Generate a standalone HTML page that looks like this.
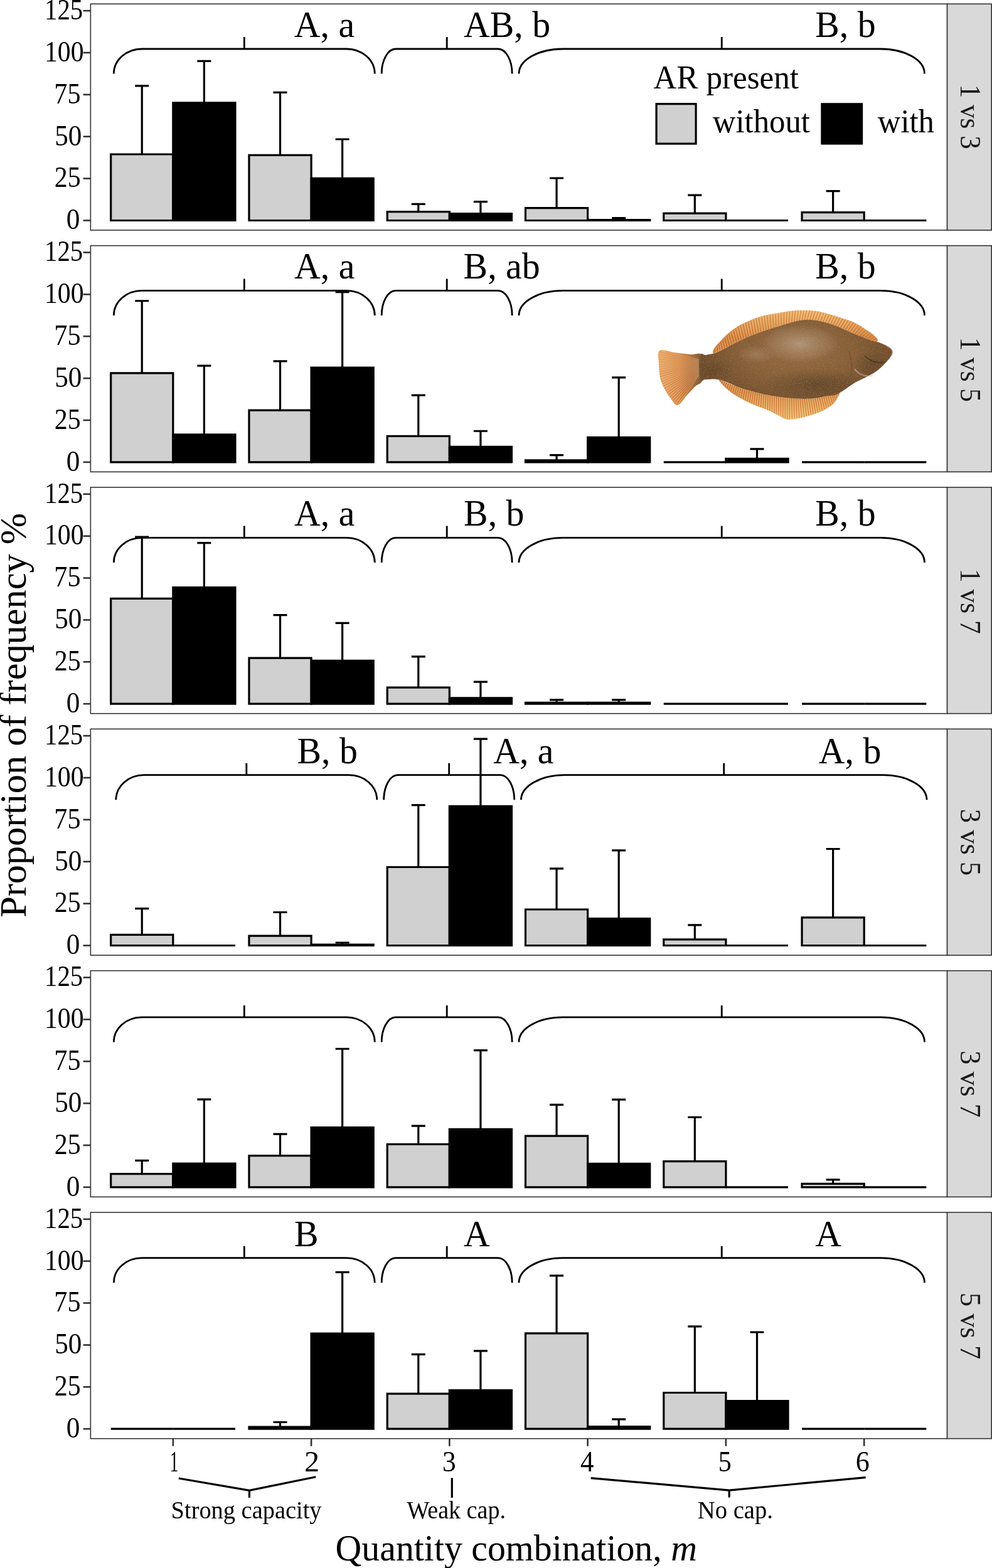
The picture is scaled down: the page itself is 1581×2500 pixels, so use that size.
<!DOCTYPE html>
<html><head><meta charset="utf-8"><title>Proportion of frequency by quantity combination</title>
<style>
html,body{margin:0;padding:0;background:#fff;}
body{width:1581px;height:2500px;overflow:hidden;}
svg{display:block;}
text{font-family:'Liberation Serif', 'Times New Roman', serif;fill:#000;}
.strip{fill:#1a1a1a;}
</style></head>
<body>
<svg width="1581" height="2500" viewBox="0 0 1581 2500">
<rect width="1581" height="2500" fill="#fff"/>
<rect x="144.35" y="6.3" width="1365.25" height="360.7" fill="#fff" stroke="#333333" stroke-width="1.6"/>
<rect x="1509.6" y="6.3" width="70.6" height="360.7" fill="#d9d9d9" stroke="#333333" stroke-width="1.6"/>
<text class="strip" style="font-size:47.3px" transform="translate(1530.80,134.42) rotate(90) scale(0.9153,1)">1 vs 3</text>
<line x1="132.6" y1="351.5" x2="144.35" y2="351.5" stroke="#333333" stroke-width="2.6"/>
<text style="font-size:47.3px" transform="translate(105.65,365.30) scale(0.9133,1)">0</text>
<line x1="132.6" y1="284.62" x2="144.35" y2="284.62" stroke="#333333" stroke-width="2.6"/>
<text style="font-size:47.3px" transform="translate(86.79,298.43) scale(0.8863,1)">25</text>
<line x1="132.6" y1="217.75" x2="144.35" y2="217.75" stroke="#333333" stroke-width="2.6"/>
<text style="font-size:47.3px" transform="translate(87.28,231.55) scale(0.9127,1)">50</text>
<line x1="132.6" y1="150.88" x2="144.35" y2="150.88" stroke="#333333" stroke-width="2.6"/>
<text style="font-size:47.3px" transform="translate(86.36,164.68) scale(0.8935,1)">75</text>
<line x1="132.6" y1="84" x2="144.35" y2="84" stroke="#333333" stroke-width="2.6"/>
<text style="font-size:47.3px" transform="translate(70.94,97.80) scale(0.8818,1)">100</text>
<line x1="132.6" y1="17.12" x2="144.35" y2="17.12" stroke="#333333" stroke-width="2.6"/>
<text style="font-size:47.3px" transform="translate(71.01,30.93) scale(0.8620,1)">125</text>
<path d="M226.24,246 L226.24,136.8 M215.24,136.8 L237.24,136.8" stroke="#000" stroke-width="3.2" fill="none"/>
<path d="M325.36,163.8 L325.36,97.4 M314.36,97.4 L336.36,97.4" stroke="#000" stroke-width="3.2" fill="none"/>
<path d="M176.67,351.5 V246 H275.8 V351.5 Z" fill="#d0d0d0" stroke="#000" stroke-width="3.2"/>
<path d="M275.8,351.5 V163.8 H374.93 V351.5 Z" fill="#000" stroke="#000" stroke-width="3.2"/>
<path d="M446.52,247.4 L446.52,147.3 M435.52,147.3 L457.52,147.3" stroke="#000" stroke-width="3.2" fill="none"/>
<path d="M545.64,284.3 L545.64,222 M534.64,222 L556.64,222" stroke="#000" stroke-width="3.2" fill="none"/>
<path d="M396.95,351.5 V247.4 H496.08 V351.5 Z" fill="#d0d0d0" stroke="#000" stroke-width="3.2"/>
<path d="M496.08,351.5 V284.3 H595.21 V351.5 Z" fill="#000" stroke="#000" stroke-width="3.2"/>
<path d="M666.8,337.6 L666.8,325.3 M655.8,325.3 L677.8,325.3" stroke="#000" stroke-width="3.2" fill="none"/>
<path d="M765.92,340.5 L765.92,321.7 M754.92,321.7 L776.92,321.7" stroke="#000" stroke-width="3.2" fill="none"/>
<path d="M617.23,351.5 V337.6 H716.36 V351.5 Z" fill="#d0d0d0" stroke="#000" stroke-width="3.2"/>
<path d="M716.36,351.5 V340.5 H815.49 V351.5 Z" fill="#000" stroke="#000" stroke-width="3.2"/>
<path d="M887.08,331.7 L887.08,284 M876.08,284 L898.08,284" stroke="#000" stroke-width="3.2" fill="none"/>
<path d="M986.2,350.7 L986.2,347.6 M975.2,347.6 L997.2,347.6" stroke="#000" stroke-width="3.2" fill="none"/>
<path d="M837.51,351.5 V331.7 H936.64 V351.5 Z" fill="#d0d0d0" stroke="#000" stroke-width="3.2"/>
<path d="M936.64,351.5 V350.7 H1035.77 V351.5 Z" fill="#000" stroke="#000" stroke-width="3.2"/>
<path d="M1107.36,340.1 L1107.36,311.1 M1096.36,311.1 L1118.36,311.1" stroke="#000" stroke-width="3.2" fill="none"/>
<path d="M1057.79,351.5 V340.1 H1156.92 V351.5 Z" fill="#d0d0d0" stroke="#000" stroke-width="3.2"/>
<path d="M1156.92,351.5 V351.5 H1256.05 V351.5 Z" fill="#000" stroke="#000" stroke-width="3.2"/>
<path d="M1327.64,338.7 L1327.64,304.7 M1316.64,304.7 L1338.64,304.7" stroke="#000" stroke-width="3.2" fill="none"/>
<path d="M1278.07,351.5 V338.7 H1377.2 V351.5 Z" fill="#d0d0d0" stroke="#000" stroke-width="3.2"/>
<path d="M1377.2,351.5 V351.5 H1476.33 V351.5 Z" fill="#000" stroke="#000" stroke-width="3.2"/>
<path d="M181.3,117.5 A44.93,39.5 0 0 1 226.23,78 L552.37,78 A44.93,39.5 0 0 1 597.3,117.5 M389.3,78 L389.3,59" fill="none" stroke="#000" stroke-width="2.8"/>
<path d="M608.2,117.5 A22.46,39.5 0 0 1 630.66,78 L793.74,78 A22.46,39.5 0 0 1 816.2,117.5 M712.2,78 L712.2,59" fill="none" stroke="#000" stroke-width="2.8"/>
<path d="M827,117.5 A69.82,39.5 0 0 1 896.82,78 L1403.68,78 A69.82,39.5 0 0 1 1473.5,117.5 M1150.25,78 L1150.25,59" fill="none" stroke="#000" stroke-width="2.8"/>
<text style="font-size:59.5px" transform="translate(468.80,59.00) scale(0.9720,1)">A, a</text>
<text style="font-size:59.5px" transform="translate(738.90,59.00) scale(0.9720,1)">AB, b</text>
<text style="font-size:59.5px" transform="translate(1299.30,59.00) scale(0.9720,1)">B, b</text>
<rect x="144.35" y="391.64" width="1365.25" height="360.7" fill="#fff" stroke="#333333" stroke-width="1.6"/>
<rect x="1509.6" y="391.64" width="70.6" height="360.7" fill="#d9d9d9" stroke="#333333" stroke-width="1.6"/>
<text class="strip" style="font-size:47.3px" transform="translate(1530.80,537.72) rotate(90) scale(0.9134,1)">1 vs 5</text>
<line x1="132.6" y1="736.84" x2="144.35" y2="736.84" stroke="#333333" stroke-width="2.6"/>
<text style="font-size:47.3px" transform="translate(105.65,750.64) scale(0.9133,1)">0</text>
<line x1="132.6" y1="669.96" x2="144.35" y2="669.96" stroke="#333333" stroke-width="2.6"/>
<text style="font-size:47.3px" transform="translate(86.79,683.76) scale(0.8863,1)">25</text>
<line x1="132.6" y1="603.09" x2="144.35" y2="603.09" stroke="#333333" stroke-width="2.6"/>
<text style="font-size:47.3px" transform="translate(87.28,616.89) scale(0.9127,1)">50</text>
<line x1="132.6" y1="536.21" x2="144.35" y2="536.21" stroke="#333333" stroke-width="2.6"/>
<text style="font-size:47.3px" transform="translate(86.36,550.01) scale(0.8935,1)">75</text>
<line x1="132.6" y1="469.34" x2="144.35" y2="469.34" stroke="#333333" stroke-width="2.6"/>
<text style="font-size:47.3px" transform="translate(70.94,483.14) scale(0.8818,1)">100</text>
<line x1="132.6" y1="402.46" x2="144.35" y2="402.46" stroke="#333333" stroke-width="2.6"/>
<text style="font-size:47.3px" transform="translate(71.01,416.26) scale(0.8620,1)">125</text>
<path d="M226.24,594.84 L226.24,479.74 M215.24,479.74 L237.24,479.74" stroke="#000" stroke-width="3.2" fill="none"/>
<path d="M325.36,692.94 L325.36,583.04 M314.36,583.04 L336.36,583.04" stroke="#000" stroke-width="3.2" fill="none"/>
<path d="M176.67,736.84 V594.84 H275.8 V736.84 Z" fill="#d0d0d0" stroke="#000" stroke-width="3.2"/>
<path d="M275.8,736.84 V692.94 H374.93 V736.84 Z" fill="#000" stroke="#000" stroke-width="3.2"/>
<path d="M446.52,654.14 L446.52,575.84 M435.52,575.84 L457.52,575.84" stroke="#000" stroke-width="3.2" fill="none"/>
<path d="M545.64,586.04 L545.64,465.74 M534.64,465.74 L556.64,465.74" stroke="#000" stroke-width="3.2" fill="none"/>
<path d="M396.95,736.84 V654.14 H496.08 V736.84 Z" fill="#d0d0d0" stroke="#000" stroke-width="3.2"/>
<path d="M496.08,736.84 V586.04 H595.21 V736.84 Z" fill="#000" stroke="#000" stroke-width="3.2"/>
<path d="M666.8,695.44 L666.8,630.14 M655.8,630.14 L677.8,630.14" stroke="#000" stroke-width="3.2" fill="none"/>
<path d="M765.92,712.44 L765.92,687.24 M754.92,687.24 L776.92,687.24" stroke="#000" stroke-width="3.2" fill="none"/>
<path d="M617.23,736.84 V695.44 H716.36 V736.84 Z" fill="#d0d0d0" stroke="#000" stroke-width="3.2"/>
<path d="M716.36,736.84 V712.44 H815.49 V736.84 Z" fill="#000" stroke="#000" stroke-width="3.2"/>
<path d="M887.08,733.84 L887.08,725.64 M876.08,725.64 L898.08,725.64" stroke="#000" stroke-width="3.2" fill="none"/>
<path d="M986.2,697.34 L986.2,601.94 M975.2,601.94 L997.2,601.94" stroke="#000" stroke-width="3.2" fill="none"/>
<path d="M837.51,736.84 V733.84 H936.64 V736.84 Z" fill="#d0d0d0" stroke="#000" stroke-width="3.2"/>
<path d="M936.64,736.84 V697.34 H1035.77 V736.84 Z" fill="#000" stroke="#000" stroke-width="3.2"/>
<path d="M1206.48,731.34 L1206.48,715.94 M1195.48,715.94 L1217.48,715.94" stroke="#000" stroke-width="3.2" fill="none"/>
<path d="M1057.79,736.84 V736.84 H1156.92 V736.84 Z" fill="#d0d0d0" stroke="#000" stroke-width="3.2"/>
<path d="M1156.92,736.84 V731.34 H1256.05 V736.84 Z" fill="#000" stroke="#000" stroke-width="3.2"/>
<path d="M1278.07,736.84 V736.84 H1377.2 V736.84 Z" fill="#d0d0d0" stroke="#000" stroke-width="3.2"/>
<path d="M1377.2,736.84 V736.84 H1476.33 V736.84 Z" fill="#000" stroke="#000" stroke-width="3.2"/>
<path d="M181.3,502.94 A44.93,39.5 0 0 1 226.23,463.44 L552.37,463.44 A44.93,39.5 0 0 1 597.3,502.94 M389.3,463.44 L389.3,444.44" fill="none" stroke="#000" stroke-width="2.8"/>
<path d="M608.2,502.94 A22.46,39.5 0 0 1 630.66,463.44 L793.74,463.44 A22.46,39.5 0 0 1 816.2,502.94 M712.2,463.44 L712.2,444.44" fill="none" stroke="#000" stroke-width="2.8"/>
<path d="M827,502.94 A69.82,39.5 0 0 1 896.82,463.44 L1403.68,463.44 A69.82,39.5 0 0 1 1473.5,502.94 M1150.25,463.44 L1150.25,444.44" fill="none" stroke="#000" stroke-width="2.8"/>
<text style="font-size:59.5px" transform="translate(469.00,444.44) scale(0.9720,1)">A, a</text>
<text style="font-size:59.5px" transform="translate(738.60,444.44) scale(0.9720,1)">B, ab</text>
<text style="font-size:59.5px" transform="translate(1299.30,444.44) scale(0.9720,1)">B, b</text>
<rect x="144.35" y="776.98" width="1365.25" height="360.7" fill="#fff" stroke="#333333" stroke-width="1.6"/>
<rect x="1509.6" y="776.98" width="70.6" height="360.7" fill="#d9d9d9" stroke="#333333" stroke-width="1.6"/>
<text class="strip" style="font-size:47.3px" transform="translate(1530.80,906.80) rotate(90) scale(0.9210,1)">1 vs 7</text>
<line x1="132.6" y1="1122.18" x2="144.35" y2="1122.18" stroke="#333333" stroke-width="2.6"/>
<text style="font-size:47.3px" transform="translate(105.65,1135.98) scale(0.9133,1)">0</text>
<line x1="132.6" y1="1055.3" x2="144.35" y2="1055.3" stroke="#333333" stroke-width="2.6"/>
<text style="font-size:47.3px" transform="translate(86.79,1069.10) scale(0.8863,1)">25</text>
<line x1="132.6" y1="988.43" x2="144.35" y2="988.43" stroke="#333333" stroke-width="2.6"/>
<text style="font-size:47.3px" transform="translate(87.28,1002.23) scale(0.9127,1)">50</text>
<line x1="132.6" y1="921.55" x2="144.35" y2="921.55" stroke="#333333" stroke-width="2.6"/>
<text style="font-size:47.3px" transform="translate(86.36,935.35) scale(0.8935,1)">75</text>
<line x1="132.6" y1="854.68" x2="144.35" y2="854.68" stroke="#333333" stroke-width="2.6"/>
<text style="font-size:47.3px" transform="translate(70.94,868.48) scale(0.8818,1)">100</text>
<line x1="132.6" y1="787.8" x2="144.35" y2="787.8" stroke="#333333" stroke-width="2.6"/>
<text style="font-size:47.3px" transform="translate(71.01,801.60) scale(0.8620,1)">125</text>
<path d="M226.24,954.38 L226.24,856.08 M215.24,856.08 L237.24,856.08" stroke="#000" stroke-width="3.2" fill="none"/>
<path d="M325.36,936.48 L325.36,865.58 M314.36,865.58 L336.36,865.58" stroke="#000" stroke-width="3.2" fill="none"/>
<path d="M176.67,1122.18 V954.38 H275.8 V1122.18 Z" fill="#d0d0d0" stroke="#000" stroke-width="3.2"/>
<path d="M275.8,1122.18 V936.48 H374.93 V1122.18 Z" fill="#000" stroke="#000" stroke-width="3.2"/>
<path d="M446.52,1049.08 L446.52,980.68 M435.52,980.68 L457.52,980.68" stroke="#000" stroke-width="3.2" fill="none"/>
<path d="M545.64,1053.38 L545.64,993.38 M534.64,993.38 L556.64,993.38" stroke="#000" stroke-width="3.2" fill="none"/>
<path d="M396.95,1122.18 V1049.08 H496.08 V1122.18 Z" fill="#d0d0d0" stroke="#000" stroke-width="3.2"/>
<path d="M496.08,1122.18 V1053.38 H595.21 V1122.18 Z" fill="#000" stroke="#000" stroke-width="3.2"/>
<path d="M666.8,1096.18 L666.8,1046.78 M655.8,1046.78 L677.8,1046.78" stroke="#000" stroke-width="3.2" fill="none"/>
<path d="M765.92,1112.78 L765.92,1087.18 M754.92,1087.18 L776.92,1087.18" stroke="#000" stroke-width="3.2" fill="none"/>
<path d="M617.23,1122.18 V1096.18 H716.36 V1122.18 Z" fill="#d0d0d0" stroke="#000" stroke-width="3.2"/>
<path d="M716.36,1122.18 V1112.78 H815.49 V1122.18 Z" fill="#000" stroke="#000" stroke-width="3.2"/>
<path d="M887.08,1120.28 L887.08,1115.78 M876.08,1115.78 L898.08,1115.78" stroke="#000" stroke-width="3.2" fill="none"/>
<path d="M986.2,1120.28 L986.2,1115.78 M975.2,1115.78 L997.2,1115.78" stroke="#000" stroke-width="3.2" fill="none"/>
<path d="M837.51,1122.18 V1120.28 H936.64 V1122.18 Z" fill="#d0d0d0" stroke="#000" stroke-width="3.2"/>
<path d="M936.64,1122.18 V1120.28 H1035.77 V1122.18 Z" fill="#000" stroke="#000" stroke-width="3.2"/>
<path d="M1057.79,1122.18 V1122.18 H1156.92 V1122.18 Z" fill="#d0d0d0" stroke="#000" stroke-width="3.2"/>
<path d="M1156.92,1122.18 V1122.18 H1256.05 V1122.18 Z" fill="#000" stroke="#000" stroke-width="3.2"/>
<path d="M1278.07,1122.18 V1122.18 H1377.2 V1122.18 Z" fill="#d0d0d0" stroke="#000" stroke-width="3.2"/>
<path d="M1377.2,1122.18 V1122.18 H1476.33 V1122.18 Z" fill="#000" stroke="#000" stroke-width="3.2"/>
<path d="M181.3,896.88 A44.93,39.5 0 0 1 226.23,857.38 L552.37,857.38 A44.93,39.5 0 0 1 597.3,896.88 M389.3,857.38 L389.3,838.38" fill="none" stroke="#000" stroke-width="2.8"/>
<path d="M608.2,896.88 A22.46,39.5 0 0 1 630.66,857.38 L793.74,857.38 A22.46,39.5 0 0 1 816.2,896.88 M712.2,857.38 L712.2,838.38" fill="none" stroke="#000" stroke-width="2.8"/>
<path d="M827,896.88 A69.82,39.5 0 0 1 896.82,857.38 L1403.68,857.38 A69.82,39.5 0 0 1 1473.5,896.88 M1150.25,857.38 L1150.25,838.38" fill="none" stroke="#000" stroke-width="2.8"/>
<text style="font-size:59.5px" transform="translate(469.00,838.38) scale(0.9720,1)">A, a</text>
<text style="font-size:59.5px" transform="translate(739.10,838.38) scale(0.9720,1)">B, b</text>
<text style="font-size:59.5px" transform="translate(1299.30,838.38) scale(0.9720,1)">B, b</text>
<rect x="144.35" y="1162.32" width="1365.25" height="360.7" fill="#fff" stroke="#333333" stroke-width="1.6"/>
<rect x="1509.6" y="1162.32" width="70.6" height="360.7" fill="#d9d9d9" stroke="#333333" stroke-width="1.6"/>
<text class="strip" style="font-size:47.3px" transform="translate(1530.80,1289.81) rotate(90) scale(0.9423,1)">3 vs 5</text>
<line x1="132.6" y1="1507.52" x2="144.35" y2="1507.52" stroke="#333333" stroke-width="2.6"/>
<text style="font-size:47.3px" transform="translate(105.65,1521.32) scale(0.9133,1)">0</text>
<line x1="132.6" y1="1440.64" x2="144.35" y2="1440.64" stroke="#333333" stroke-width="2.6"/>
<text style="font-size:47.3px" transform="translate(86.79,1454.44) scale(0.8863,1)">25</text>
<line x1="132.6" y1="1373.77" x2="144.35" y2="1373.77" stroke="#333333" stroke-width="2.6"/>
<text style="font-size:47.3px" transform="translate(87.28,1387.57) scale(0.9127,1)">50</text>
<line x1="132.6" y1="1306.89" x2="144.35" y2="1306.89" stroke="#333333" stroke-width="2.6"/>
<text style="font-size:47.3px" transform="translate(86.36,1320.69) scale(0.8935,1)">75</text>
<line x1="132.6" y1="1240.02" x2="144.35" y2="1240.02" stroke="#333333" stroke-width="2.6"/>
<text style="font-size:47.3px" transform="translate(70.94,1253.82) scale(0.8818,1)">100</text>
<line x1="132.6" y1="1173.14" x2="144.35" y2="1173.14" stroke="#333333" stroke-width="2.6"/>
<text style="font-size:47.3px" transform="translate(71.01,1186.94) scale(0.8620,1)">125</text>
<path d="M226.24,1490.32 L226.24,1448.62 M215.24,1448.62 L237.24,1448.62" stroke="#000" stroke-width="3.2" fill="none"/>
<path d="M176.67,1507.52 V1490.32 H275.8 V1507.52 Z" fill="#d0d0d0" stroke="#000" stroke-width="3.2"/>
<path d="M275.8,1507.52 V1507.52 H374.93 V1507.52 Z" fill="#000" stroke="#000" stroke-width="3.2"/>
<path d="M446.52,1492.12 L446.52,1454.52 M435.52,1454.52 L457.52,1454.52" stroke="#000" stroke-width="3.2" fill="none"/>
<path d="M545.64,1506.02 L545.64,1503.02 M534.64,1503.02 L556.64,1503.02" stroke="#000" stroke-width="3.2" fill="none"/>
<path d="M396.95,1507.52 V1492.12 H496.08 V1507.52 Z" fill="#d0d0d0" stroke="#000" stroke-width="3.2"/>
<path d="M496.08,1507.52 V1506.02 H595.21 V1507.52 Z" fill="#000" stroke="#000" stroke-width="3.2"/>
<path d="M666.8,1382.52 L666.8,1283.72 M655.8,1283.72 L677.8,1283.72" stroke="#000" stroke-width="3.2" fill="none"/>
<path d="M765.92,1285.32 L765.92,1178.22 M754.92,1178.22 L776.92,1178.22" stroke="#000" stroke-width="3.2" fill="none"/>
<path d="M617.23,1507.52 V1382.52 H716.36 V1507.52 Z" fill="#d0d0d0" stroke="#000" stroke-width="3.2"/>
<path d="M716.36,1507.52 V1285.32 H815.49 V1507.52 Z" fill="#000" stroke="#000" stroke-width="3.2"/>
<path d="M887.08,1450.02 L887.08,1384.82 M876.08,1384.82 L898.08,1384.82" stroke="#000" stroke-width="3.2" fill="none"/>
<path d="M986.2,1464.52 L986.2,1355.82 M975.2,1355.82 L997.2,1355.82" stroke="#000" stroke-width="3.2" fill="none"/>
<path d="M837.51,1507.52 V1450.02 H936.64 V1507.52 Z" fill="#d0d0d0" stroke="#000" stroke-width="3.2"/>
<path d="M936.64,1507.52 V1464.52 H1035.77 V1507.52 Z" fill="#000" stroke="#000" stroke-width="3.2"/>
<path d="M1107.36,1497.82 L1107.36,1474.92 M1096.36,1474.92 L1118.36,1474.92" stroke="#000" stroke-width="3.2" fill="none"/>
<path d="M1057.79,1507.52 V1497.82 H1156.92 V1507.52 Z" fill="#d0d0d0" stroke="#000" stroke-width="3.2"/>
<path d="M1156.92,1507.52 V1507.52 H1256.05 V1507.52 Z" fill="#000" stroke="#000" stroke-width="3.2"/>
<path d="M1327.64,1462.92 L1327.64,1353.52 M1316.64,1353.52 L1338.64,1353.52" stroke="#000" stroke-width="3.2" fill="none"/>
<path d="M1278.07,1507.52 V1462.92 H1377.2 V1507.52 Z" fill="#d0d0d0" stroke="#000" stroke-width="3.2"/>
<path d="M1377.2,1507.52 V1507.52 H1476.33 V1507.52 Z" fill="#000" stroke="#000" stroke-width="3.2"/>
<path d="M184.8,1275.22 A44.93,39.5 0 0 1 229.73,1235.72 L555.87,1235.72 A44.93,39.5 0 0 1 600.8,1275.22 M392.8,1235.72 L392.8,1216.72" fill="none" stroke="#000" stroke-width="2.8"/>
<path d="M611.7,1275.22 A22.46,39.5 0 0 1 634.16,1235.72 L797.24,1235.72 A22.46,39.5 0 0 1 819.7,1275.22 M715.7,1235.72 L715.7,1216.72" fill="none" stroke="#000" stroke-width="2.8"/>
<path d="M830.5,1275.22 A69.82,39.5 0 0 1 900.32,1235.72 L1407.18,1235.72 A69.82,39.5 0 0 1 1477,1275.22 M1153.75,1235.72 L1153.75,1216.72" fill="none" stroke="#000" stroke-width="2.8"/>
<text style="font-size:59.5px" transform="translate(473.50,1216.72) scale(0.9720,1)">B, b</text>
<text style="font-size:59.5px" transform="translate(786.20,1216.72) scale(0.9720,1)">A, a</text>
<text style="font-size:59.5px" transform="translate(1304.80,1216.72) scale(0.9720,1)">A, b</text>
<rect x="144.35" y="1547.66" width="1365.25" height="360.7" fill="#fff" stroke="#333333" stroke-width="1.6"/>
<rect x="1509.6" y="1547.66" width="70.6" height="360.7" fill="#d9d9d9" stroke="#333333" stroke-width="1.6"/>
<text class="strip" style="font-size:47.3px" transform="translate(1530.80,1675.10) rotate(90) scale(0.9450,1)">3 vs 7</text>
<line x1="132.6" y1="1892.86" x2="144.35" y2="1892.86" stroke="#333333" stroke-width="2.6"/>
<text style="font-size:47.3px" transform="translate(105.65,1906.66) scale(0.9133,1)">0</text>
<line x1="132.6" y1="1825.98" x2="144.35" y2="1825.98" stroke="#333333" stroke-width="2.6"/>
<text style="font-size:47.3px" transform="translate(86.79,1839.78) scale(0.8863,1)">25</text>
<line x1="132.6" y1="1759.11" x2="144.35" y2="1759.11" stroke="#333333" stroke-width="2.6"/>
<text style="font-size:47.3px" transform="translate(87.28,1772.91) scale(0.9127,1)">50</text>
<line x1="132.6" y1="1692.23" x2="144.35" y2="1692.23" stroke="#333333" stroke-width="2.6"/>
<text style="font-size:47.3px" transform="translate(86.36,1706.03) scale(0.8935,1)">75</text>
<line x1="132.6" y1="1625.36" x2="144.35" y2="1625.36" stroke="#333333" stroke-width="2.6"/>
<text style="font-size:47.3px" transform="translate(70.94,1639.16) scale(0.8818,1)">100</text>
<line x1="132.6" y1="1558.48" x2="144.35" y2="1558.48" stroke="#333333" stroke-width="2.6"/>
<text style="font-size:47.3px" transform="translate(71.01,1572.28) scale(0.8620,1)">125</text>
<path d="M226.24,1871.66 L226.24,1850.36 M215.24,1850.36 L237.24,1850.36" stroke="#000" stroke-width="3.2" fill="none"/>
<path d="M325.36,1855.06 L325.36,1752.96 M314.36,1752.96 L336.36,1752.96" stroke="#000" stroke-width="3.2" fill="none"/>
<path d="M176.67,1892.86 V1871.66 H275.8 V1892.86 Z" fill="#d0d0d0" stroke="#000" stroke-width="3.2"/>
<path d="M275.8,1892.86 V1855.06 H374.93 V1892.86 Z" fill="#000" stroke="#000" stroke-width="3.2"/>
<path d="M446.52,1842.66 L446.52,1808.16 M435.52,1808.16 L457.52,1808.16" stroke="#000" stroke-width="3.2" fill="none"/>
<path d="M545.64,1797.56 L545.64,1672.26 M534.64,1672.26 L556.64,1672.26" stroke="#000" stroke-width="3.2" fill="none"/>
<path d="M396.95,1892.86 V1842.66 H496.08 V1892.86 Z" fill="#d0d0d0" stroke="#000" stroke-width="3.2"/>
<path d="M496.08,1892.86 V1797.56 H595.21 V1892.86 Z" fill="#000" stroke="#000" stroke-width="3.2"/>
<path d="M666.8,1824.46 L666.8,1795.06 M655.8,1795.06 L677.8,1795.06" stroke="#000" stroke-width="3.2" fill="none"/>
<path d="M765.92,1800.26 L765.92,1674.56 M754.92,1674.56 L776.92,1674.56" stroke="#000" stroke-width="3.2" fill="none"/>
<path d="M617.23,1892.86 V1824.46 H716.36 V1892.86 Z" fill="#d0d0d0" stroke="#000" stroke-width="3.2"/>
<path d="M716.36,1892.86 V1800.26 H815.49 V1892.86 Z" fill="#000" stroke="#000" stroke-width="3.2"/>
<path d="M887.08,1811.06 L887.08,1761.46 M876.08,1761.46 L898.08,1761.46" stroke="#000" stroke-width="3.2" fill="none"/>
<path d="M986.2,1855.46 L986.2,1753.16 M975.2,1753.16 L997.2,1753.16" stroke="#000" stroke-width="3.2" fill="none"/>
<path d="M837.51,1892.86 V1811.06 H936.64 V1892.86 Z" fill="#d0d0d0" stroke="#000" stroke-width="3.2"/>
<path d="M936.64,1892.86 V1855.46 H1035.77 V1892.86 Z" fill="#000" stroke="#000" stroke-width="3.2"/>
<path d="M1107.36,1851.56 L1107.36,1781.26 M1096.36,1781.26 L1118.36,1781.26" stroke="#000" stroke-width="3.2" fill="none"/>
<path d="M1057.79,1892.86 V1851.56 H1156.92 V1892.86 Z" fill="#d0d0d0" stroke="#000" stroke-width="3.2"/>
<path d="M1156.92,1892.86 V1892.86 H1256.05 V1892.86 Z" fill="#000" stroke="#000" stroke-width="3.2"/>
<path d="M1327.64,1887.36 L1327.64,1880.96 M1316.64,1880.96 L1338.64,1880.96" stroke="#000" stroke-width="3.2" fill="none"/>
<path d="M1278.07,1892.86 V1887.36 H1377.2 V1892.86 Z" fill="#d0d0d0" stroke="#000" stroke-width="3.2"/>
<path d="M1377.2,1892.86 V1892.86 H1476.33 V1892.86 Z" fill="#000" stroke="#000" stroke-width="3.2"/>
<path d="M181.3,1661.46 A44.93,39.5 0 0 1 226.23,1621.96 L552.37,1621.96 A44.93,39.5 0 0 1 597.3,1661.46 M389.3,1621.96 L389.3,1602.96" fill="none" stroke="#000" stroke-width="2.8"/>
<path d="M608.2,1661.46 A22.46,39.5 0 0 1 630.66,1621.96 L793.74,1621.96 A22.46,39.5 0 0 1 816.2,1661.46 M712.2,1621.96 L712.2,1602.96" fill="none" stroke="#000" stroke-width="2.8"/>
<path d="M827,1661.46 A69.82,39.5 0 0 1 896.82,1621.96 L1403.68,1621.96 A69.82,39.5 0 0 1 1473.5,1661.46 M1150.25,1621.96 L1150.25,1602.96" fill="none" stroke="#000" stroke-width="2.8"/>
<rect x="144.35" y="1933" width="1365.25" height="360.7" fill="#fff" stroke="#333333" stroke-width="1.6"/>
<rect x="1509.6" y="1933" width="70.6" height="360.7" fill="#d9d9d9" stroke="#333333" stroke-width="1.6"/>
<text class="strip" style="font-size:47.3px" transform="translate(1530.80,2060.91) rotate(90) scale(0.9414,1)">5 vs 7</text>
<line x1="132.6" y1="2278.2" x2="144.35" y2="2278.2" stroke="#333333" stroke-width="2.6"/>
<text style="font-size:47.3px" transform="translate(105.65,2292.00) scale(0.9133,1)">0</text>
<line x1="132.6" y1="2211.32" x2="144.35" y2="2211.32" stroke="#333333" stroke-width="2.6"/>
<text style="font-size:47.3px" transform="translate(86.79,2225.12) scale(0.8863,1)">25</text>
<line x1="132.6" y1="2144.45" x2="144.35" y2="2144.45" stroke="#333333" stroke-width="2.6"/>
<text style="font-size:47.3px" transform="translate(87.28,2158.25) scale(0.9127,1)">50</text>
<line x1="132.6" y1="2077.57" x2="144.35" y2="2077.57" stroke="#333333" stroke-width="2.6"/>
<text style="font-size:47.3px" transform="translate(86.36,2091.38) scale(0.8935,1)">75</text>
<line x1="132.6" y1="2010.7" x2="144.35" y2="2010.7" stroke="#333333" stroke-width="2.6"/>
<text style="font-size:47.3px" transform="translate(70.94,2024.50) scale(0.8818,1)">100</text>
<line x1="132.6" y1="1943.82" x2="144.35" y2="1943.82" stroke="#333333" stroke-width="2.6"/>
<text style="font-size:47.3px" transform="translate(71.01,1957.62) scale(0.8620,1)">125</text>
<path d="M176.67,2278.2 V2278.2 H275.8 V2278.2 Z" fill="#d0d0d0" stroke="#000" stroke-width="3.2"/>
<path d="M275.8,2278.2 V2278.2 H374.93 V2278.2 Z" fill="#000" stroke="#000" stroke-width="3.2"/>
<path d="M446.52,2275.2 L446.52,2267.5 M435.52,2267.5 L457.52,2267.5" stroke="#000" stroke-width="3.2" fill="none"/>
<path d="M545.64,2126 L545.64,2028.3 M534.64,2028.3 L556.64,2028.3" stroke="#000" stroke-width="3.2" fill="none"/>
<path d="M396.95,2278.2 V2275.2 H496.08 V2278.2 Z" fill="#d0d0d0" stroke="#000" stroke-width="3.2"/>
<path d="M496.08,2278.2 V2126 H595.21 V2278.2 Z" fill="#000" stroke="#000" stroke-width="3.2"/>
<path d="M666.8,2222.2 L666.8,2159.3 M655.8,2159.3 L677.8,2159.3" stroke="#000" stroke-width="3.2" fill="none"/>
<path d="M765.92,2216.6 L765.92,2153.8 M754.92,2153.8 L776.92,2153.8" stroke="#000" stroke-width="3.2" fill="none"/>
<path d="M617.23,2278.2 V2222.2 H716.36 V2278.2 Z" fill="#d0d0d0" stroke="#000" stroke-width="3.2"/>
<path d="M716.36,2278.2 V2216.6 H815.49 V2278.2 Z" fill="#000" stroke="#000" stroke-width="3.2"/>
<path d="M887.08,2125.8 L887.08,2033.9 M876.08,2033.9 L898.08,2033.9" stroke="#000" stroke-width="3.2" fill="none"/>
<path d="M986.2,2274.5 L986.2,2262.8 M975.2,2262.8 L997.2,2262.8" stroke="#000" stroke-width="3.2" fill="none"/>
<path d="M837.51,2278.2 V2125.8 H936.64 V2278.2 Z" fill="#d0d0d0" stroke="#000" stroke-width="3.2"/>
<path d="M936.64,2278.2 V2274.5 H1035.77 V2278.2 Z" fill="#000" stroke="#000" stroke-width="3.2"/>
<path d="M1107.36,2220.5 L1107.36,2114.8 M1096.36,2114.8 L1118.36,2114.8" stroke="#000" stroke-width="3.2" fill="none"/>
<path d="M1206.48,2233.6 L1206.48,2124 M1195.48,2124 L1217.48,2124" stroke="#000" stroke-width="3.2" fill="none"/>
<path d="M1057.79,2278.2 V2220.5 H1156.92 V2278.2 Z" fill="#d0d0d0" stroke="#000" stroke-width="3.2"/>
<path d="M1156.92,2278.2 V2233.6 H1256.05 V2278.2 Z" fill="#000" stroke="#000" stroke-width="3.2"/>
<path d="M1278.07,2278.2 V2278.2 H1377.2 V2278.2 Z" fill="#d0d0d0" stroke="#000" stroke-width="3.2"/>
<path d="M1377.2,2278.2 V2278.2 H1476.33 V2278.2 Z" fill="#000" stroke="#000" stroke-width="3.2"/>
<path d="M181.3,2045.2 A44.93,39.5 0 0 1 226.23,2005.7 L552.37,2005.7 A44.93,39.5 0 0 1 597.3,2045.2 M389.3,2005.7 L389.3,1986.7" fill="none" stroke="#000" stroke-width="2.8"/>
<path d="M608.2,2045.2 A22.46,39.5 0 0 1 630.66,2005.7 L793.74,2005.7 A22.46,39.5 0 0 1 816.2,2045.2 M712.2,2005.7 L712.2,1986.7" fill="none" stroke="#000" stroke-width="2.8"/>
<path d="M827,2045.2 A69.82,39.5 0 0 1 896.82,2005.7 L1403.68,2005.7 A69.82,39.5 0 0 1 1473.5,2045.2 M1150.25,2005.7 L1150.25,1986.7" fill="none" stroke="#000" stroke-width="2.8"/>
<text style="font-size:59.5px" transform="translate(469.00,1986.70) scale(0.9720,1)">B</text>
<text style="font-size:59.5px" transform="translate(739.00,1986.70) scale(0.9720,1)">A</text>
<text style="font-size:59.5px" transform="translate(1299.30,1986.70) scale(0.9720,1)">A</text>
<text style="font-size:52.6px" transform="translate(1041.60,141.40) scale(0.9723,1)">AR present</text>
<rect x="1046.1" y="165.7" width="63" height="63.4" fill="#d0d0d0" stroke="#000" stroke-width="3.2"/>
<text style="font-size:52.6px" transform="translate(1135.80,211.00) scale(0.9658,1)">without</text>
<rect x="1308.3" y="164.2" width="66.9" height="66.4" fill="#000"/>
<text style="font-size:52.6px" transform="translate(1398.80,210.80) scale(0.9635,1)">with</text>
<defs>
<linearGradient id="tailG" gradientUnits="userSpaceOnUse" x1="1122" y1="0" x2="1050" y2="0">
 <stop offset="0" stop-color="#805a36"/><stop offset="0.12" stop-color="#8a603a"/><stop offset="0.3" stop-color="#b4763e"/><stop offset="0.55" stop-color="#de9550"/><stop offset="1" stop-color="#eeb070"/>
</linearGradient>
<linearGradient id="dorsG" gradientUnits="userSpaceOnUse" x1="0" y1="540" x2="0" y2="495">
 <stop offset="0" stop-color="#d2843e"/><stop offset="1" stop-color="#f2ba6e"/>
</linearGradient>
<linearGradient id="analG" gradientUnits="userSpaceOnUse" x1="0" y1="625" x2="0" y2="668">
 <stop offset="0" stop-color="#d88c42"/><stop offset="1" stop-color="#f4c070"/>
</linearGradient>
<radialGradient id="bodyG" gradientUnits="userSpaceOnUse" cx="1270" cy="560" r="150" gradientTransform="translate(1270,560) scale(1,0.55) translate(-1270,-560)">
 <stop offset="0" stop-color="#976a40"/><stop offset="0.6" stop-color="#875e35"/><stop offset="1" stop-color="#714c2a"/>
</radialGradient>
<radialGradient id="hl" cx="0.5" cy="0.5" r="0.5">
 <stop offset="0" stop-color="#c0a88e" stop-opacity="0.75"/><stop offset="0.6" stop-color="#b49678" stop-opacity="0.4"/><stop offset="1" stop-color="#b8a290" stop-opacity="0"/>
</radialGradient>
<radialGradient id="dk" cx="0.5" cy="0.5" r="0.5">
 <stop offset="0" stop-color="#4a3620" stop-opacity="0.55"/><stop offset="1" stop-color="#4a3620" stop-opacity="0"/>
</radialGradient>
<filter id="grain" x="0" y="0" width="100%" height="100%">
 <feTurbulence type="fractalNoise" baseFrequency="0.55" numOctaves="2" seed="3" result="n"/>
 <feColorMatrix type="matrix" values="0 0 0 0 0.25  0 0 0 0 0.18  0 0 0 0 0.1  1.6 0 0 0 -0.75" in="n" result="dots"/>
 <feComposite in="dots" in2="SourceGraphic" operator="in"/>
</filter>
<filter id="grainL" x="0" y="0" width="100%" height="100%">
 <feTurbulence type="fractalNoise" baseFrequency="0.7" numOctaves="1" seed="11" result="n"/>
 <feColorMatrix type="matrix" values="0 0 0 0 0.85  0 0 0 0 0.8  0 0 0 0 0.72  1.8 0 0 0 -1.05" in="n" result="dots"/>
 <feComposite in="dots" in2="SourceGraphic" operator="in"/>
</filter>
</defs>
<g id="fish">
<path d="M1138.0,556.0 C1140.0,552.5 1145.5,546.7 1150.0,542.0 C1154.5,537.3 1159.3,532.3 1165.0,528.0 C1170.7,523.7 1176.3,519.8 1184.0,516.0 C1191.7,512.2 1201.7,507.8 1211.0,505.0 C1220.3,502.2 1230.3,500.7 1240.0,499.0 C1249.7,497.3 1258.7,495.5 1269.0,495.0 C1279.3,494.5 1291.0,494.3 1302.0,496.0 C1313.0,497.7 1325.2,502.0 1335.0,505.0 C1344.8,508.0 1353.3,510.5 1361.0,514.0 C1368.7,517.5 1375.8,522.7 1381.0,526.0 C1386.2,529.3 1389.0,531.3 1392.0,534.0 C1395.0,536.7 1399.0,540.2 1399.0,542.0 C1399.0,543.8 1398.3,546.7 1392.0,545.0 C1385.7,543.3 1372.7,536.8 1361.0,532.0 C1349.3,527.2 1335.2,519.7 1322.0,516.0 C1308.8,512.3 1296.5,509.0 1282.0,510.0 C1267.5,511.0 1248.7,518.0 1235.0,522.0 C1221.3,526.0 1209.2,530.5 1200.0,534.0 C1190.8,537.5 1186.7,539.8 1180.0,543.0 C1173.3,546.2 1167.0,549.7 1160.0,553.0 C1153.0,556.3 1141.7,562.5 1138.0,563.0 C1134.3,563.5 1136.0,559.5 1138.0,556.0 Z" fill="url(#dorsG)"/>
<path d="M1144.0,604.0 C1145.3,605.7 1149.0,610.8 1152.0,614.0 C1155.0,617.2 1158.2,620.0 1162.0,623.0 C1165.8,626.0 1169.0,628.5 1175.0,632.0 C1181.0,635.5 1189.8,640.3 1198.0,644.0 C1206.2,647.7 1217.0,651.0 1224.0,654.0 C1231.0,657.0 1234.7,659.5 1240.0,662.0 C1245.3,664.5 1249.0,668.5 1256.0,669.0 C1263.0,669.5 1273.2,667.2 1282.0,665.0 C1290.8,662.8 1301.3,659.5 1309.0,656.0 C1316.7,652.5 1323.3,648.3 1328.0,644.0 C1332.7,639.7 1335.3,632.8 1337.0,630.0 C1338.7,627.2 1340.5,626.8 1338.0,627.0 C1335.5,627.2 1331.3,629.5 1322.0,631.0 C1312.7,632.5 1297.3,636.0 1282.0,636.0 C1266.7,636.0 1246.2,633.7 1230.0,631.0 C1213.8,628.3 1199.3,624.5 1185.0,620.0 C1170.7,615.5 1150.8,606.7 1144.0,604.0 C1137.2,601.3 1142.7,602.3 1144.0,604.0 Z" fill="url(#analG)"/>
<path d="M1051.0,559.0 C1055.2,556.0 1066.8,561.0 1075.0,562.0 C1083.2,563.0 1092.5,564.2 1100.0,565.0 C1107.5,565.8 1116.7,560.3 1120.0,567.0 C1123.3,573.7 1122.0,596.8 1120.0,605.0 C1118.0,613.2 1112.2,611.8 1108.0,616.0 C1103.8,620.2 1099.7,625.0 1095.0,630.0 C1090.3,635.0 1084.5,645.3 1080.0,646.0 C1075.5,646.7 1071.7,638.7 1068.0,634.0 C1064.3,629.3 1060.7,623.3 1058.0,618.0 C1055.3,612.7 1053.3,608.3 1052.0,602.0 C1050.7,595.7 1050.2,587.2 1050.0,580.0 C1049.8,572.8 1046.8,562.0 1051.0,559.0 Z" fill="url(#tailG)"/>
<path d="M1139.9,562.1L1139.5,554.3 M1143.8,560.4L1142.5,550.8 M1147.6,558.6L1145.4,547.3 M1151.5,556.9L1148.4,543.9 M1155.3,555.1L1151.5,540.6 M1159.1,553.4L1154.9,537.5 M1162.9,551.5L1158.2,534.4 M1166.7,549.6L1161.5,531.3 M1170.5,547.8L1164.8,528.1 M1174.3,545.9L1168.7,525.7 M1178.0,544.0L1172.5,523.2 M1181.8,542.2L1176.4,520.8 M1185.7,540.4L1180.2,518.4 M1189.5,538.7L1184.1,516.0 M1193.4,537.0L1188.3,514.2 M1197.2,535.2L1192.5,512.5 M1201.1,533.6L1196.8,510.8 M1205.1,532.2L1201.0,509.1 M1209.1,530.9L1205.2,507.4 M1213.1,529.5L1209.4,505.6 M1217.1,528.1L1213.8,504.4 M1221.1,526.8L1218.3,503.5 M1225.1,525.4L1222.7,502.6 M1229.1,524.0L1227.2,501.6 M1233.1,522.7L1231.7,500.7 M1237.1,521.5L1236.1,499.8 M1241.2,520.4L1240.6,498.9 M1245.3,519.4L1245.1,498.3 M1249.4,518.3L1249.6,497.7 M1253.5,517.3L1254.2,497.0 M1257.6,516.2L1258.7,496.4 M1261.7,515.2L1263.2,495.8 M1265.8,514.1L1267.7,495.2 M1269.8,513.1L1272.2,495.1 M1273.9,512.1L1276.8,495.2 M1278.0,511.0L1281.4,495.4 M1282.1,510.0L1285.9,495.5 M1286.3,510.6L1290.5,495.7 M1290.5,511.3L1295.0,495.8 M1294.6,511.9L1299.6,495.9 M1298.8,512.5L1304.1,496.6 M1303.0,513.1L1308.5,497.8 M1307.2,513.8L1312.9,499.0 M1311.3,514.4L1317.3,500.2 M1315.5,515.0L1321.7,501.4 M1319.7,515.7L1326.1,502.6 M1323.8,516.7L1330.5,503.8 M1327.7,518.3L1334.9,505.0 M1331.6,519.9L1339.2,506.4 M1335.5,521.5L1343.5,507.9 M1339.4,523.1L1347.8,509.4 M1343.3,524.7L1352.1,510.9 M1347.2,526.3L1356.4,512.4 M1351.1,527.9L1360.7,513.9 M1355.0,529.5L1364.6,516.2 M1358.9,531.1L1368.6,518.5 M1362.8,532.8L1372.5,520.9 M1366.7,534.4L1376.4,523.2 M1370.6,536.0L1380.3,525.6 M1374.5,537.7L1384.0,528.2 M1378.4,539.3L1387.7,530.9 M1382.3,540.9L1391.4,533.5 M1386.2,542.6L1394.5,536.9 M1390.1,544.2L1397.5,540.3 M1145.6,604.6L1145.2,605.5 M1148.8,605.9L1147.6,608.5 M1152.0,607.1L1150.1,611.6 M1155.2,608.4L1152.6,614.5 M1158.4,609.6L1155.5,617.1 M1161.6,610.9L1158.3,619.7 M1164.8,612.1L1161.2,622.3 M1168.0,613.4L1164.3,624.6 M1171.2,614.6L1167.5,626.8 M1174.4,615.9L1170.7,629.0 M1177.6,617.1L1173.9,631.2 M1180.8,618.4L1177.3,633.2 M1184.0,619.6L1180.7,635.0 M1187.3,620.6L1184.2,636.8 M1190.7,621.4L1187.6,638.6 M1194.0,622.2L1191.0,640.4 M1197.3,623.0L1194.5,642.2 M1200.7,623.8L1197.9,644.0 M1204.0,624.7L1201.5,645.4 M1207.4,625.5L1205.2,646.8 M1210.7,626.3L1208.8,648.1 M1214.0,627.1L1212.4,649.5 M1217.4,627.9L1216.0,650.9 M1220.7,628.7L1219.6,652.3 M1224.1,629.5L1223.3,653.7 M1227.4,630.4L1226.8,655.4 M1230.8,631.1L1230.2,657.1 M1234.2,631.4L1233.7,658.9 M1237.6,631.7L1237.2,660.6 M1241.0,632.1L1240.7,662.3 M1244.4,632.4L1244.2,663.8 M1247.9,632.7L1247.8,665.4 M1251.3,633.0L1251.3,667.0 M1254.7,633.4L1254.9,668.5 M1258.1,633.7L1258.6,668.6 M1261.6,634.0L1262.5,668.0 M1265.0,634.4L1266.3,667.4 M1268.4,634.7L1270.2,666.8 M1271.8,635.0L1274.0,666.2 M1275.2,635.3L1277.8,665.6 M1278.7,635.7L1281.7,665.1 M1282.1,636.0L1285.4,663.9 M1285.5,635.6L1289.0,662.7 M1288.9,635.1L1292.7,661.4 M1292.3,634.7L1296.4,660.2 M1295.7,634.3L1300.1,659.0 M1299.1,633.9L1303.8,657.7 M1302.5,633.4L1307.4,656.5 M1306.0,633.0L1310.9,654.8 M1309.4,632.6L1314.2,652.7 M1312.8,632.2L1317.5,650.7 M1316.2,631.7L1320.7,648.6 M1319.6,631.3L1324.0,646.5 M1323.0,630.8L1327.3,644.4 M1326.3,629.9L1329.7,641.4 M1329.7,629.1L1331.8,638.2 M1333.0,628.3L1333.9,634.9 M1336.3,627.4L1336.0,631.6 M1112.0,572.6L1050.9,561.0 M1112.0,573.8L1050.7,565.0 M1112.0,574.9L1050.5,569.0 M1112.0,576.1L1050.3,573.0 M1112.0,577.2L1050.1,577.0 M1112.0,578.4L1050.1,581.0 M1112.0,579.6L1050.5,585.0 M1112.0,580.8L1050.8,589.0 M1112.0,581.9L1051.2,592.9 M1112.0,583.1L1051.5,596.9 M1112.0,584.2L1051.9,600.9 M1112.0,585.4L1053.0,604.7 M1112.0,586.6L1054.4,608.5 M1112.0,587.8L1055.8,612.2 M1112.0,588.9L1057.2,616.0 M1112.0,590.1L1059.0,619.5 M1112.0,591.2L1061.1,622.9 M1112.0,592.4L1063.2,626.3 M1112.0,593.6L1065.3,629.7 M1112.0,594.8L1067.5,633.1 M1112.0,595.9L1070.1,636.1 M1112.0,597.1L1072.9,638.9 M1112.0,598.2L1075.8,641.8 M1112.0,599.4L1078.6,644.6" stroke="#b85a2a" stroke-width="1.1" stroke-opacity="0.55" fill="none"/>
<path d="M1139.9,562.1L1139.5,554.3 M1143.8,560.4L1142.5,550.8 M1147.6,558.6L1145.4,547.3 M1151.5,556.9L1148.4,543.9 M1155.3,555.1L1151.5,540.6 M1159.1,553.4L1154.9,537.5 M1162.9,551.5L1158.2,534.4 M1166.7,549.6L1161.5,531.3 M1170.5,547.8L1164.8,528.1 M1174.3,545.9L1168.7,525.7 M1178.0,544.0L1172.5,523.2 M1181.8,542.2L1176.4,520.8 M1185.7,540.4L1180.2,518.4 M1189.5,538.7L1184.1,516.0 M1193.4,537.0L1188.3,514.2 M1197.2,535.2L1192.5,512.5 M1201.1,533.6L1196.8,510.8 M1205.1,532.2L1201.0,509.1 M1209.1,530.9L1205.2,507.4 M1213.1,529.5L1209.4,505.6 M1217.1,528.1L1213.8,504.4 M1221.1,526.8L1218.3,503.5 M1225.1,525.4L1222.7,502.6 M1229.1,524.0L1227.2,501.6 M1233.1,522.7L1231.7,500.7 M1237.1,521.5L1236.1,499.8 M1241.2,520.4L1240.6,498.9 M1245.3,519.4L1245.1,498.3 M1249.4,518.3L1249.6,497.7 M1253.5,517.3L1254.2,497.0 M1257.6,516.2L1258.7,496.4 M1261.7,515.2L1263.2,495.8 M1265.8,514.1L1267.7,495.2 M1269.8,513.1L1272.2,495.1 M1273.9,512.1L1276.8,495.2 M1278.0,511.0L1281.4,495.4 M1282.1,510.0L1285.9,495.5 M1286.3,510.6L1290.5,495.7 M1290.5,511.3L1295.0,495.8 M1294.6,511.9L1299.6,495.9 M1298.8,512.5L1304.1,496.6 M1303.0,513.1L1308.5,497.8 M1307.2,513.8L1312.9,499.0 M1311.3,514.4L1317.3,500.2 M1315.5,515.0L1321.7,501.4 M1319.7,515.7L1326.1,502.6 M1323.8,516.7L1330.5,503.8 M1327.7,518.3L1334.9,505.0 M1331.6,519.9L1339.2,506.4 M1335.5,521.5L1343.5,507.9 M1339.4,523.1L1347.8,509.4 M1343.3,524.7L1352.1,510.9 M1347.2,526.3L1356.4,512.4 M1351.1,527.9L1360.7,513.9 M1355.0,529.5L1364.6,516.2 M1358.9,531.1L1368.6,518.5 M1362.8,532.8L1372.5,520.9 M1366.7,534.4L1376.4,523.2 M1370.6,536.0L1380.3,525.6 M1374.5,537.7L1384.0,528.2 M1378.4,539.3L1387.7,530.9 M1382.3,540.9L1391.4,533.5 M1386.2,542.6L1394.5,536.9 M1390.1,544.2L1397.5,540.3 M1145.6,604.6L1145.2,605.5 M1148.8,605.9L1147.6,608.5 M1152.0,607.1L1150.1,611.6 M1155.2,608.4L1152.6,614.5 M1158.4,609.6L1155.5,617.1 M1161.6,610.9L1158.3,619.7 M1164.8,612.1L1161.2,622.3 M1168.0,613.4L1164.3,624.6 M1171.2,614.6L1167.5,626.8 M1174.4,615.9L1170.7,629.0 M1177.6,617.1L1173.9,631.2 M1180.8,618.4L1177.3,633.2 M1184.0,619.6L1180.7,635.0 M1187.3,620.6L1184.2,636.8 M1190.7,621.4L1187.6,638.6 M1194.0,622.2L1191.0,640.4 M1197.3,623.0L1194.5,642.2 M1200.7,623.8L1197.9,644.0 M1204.0,624.7L1201.5,645.4 M1207.4,625.5L1205.2,646.8 M1210.7,626.3L1208.8,648.1 M1214.0,627.1L1212.4,649.5 M1217.4,627.9L1216.0,650.9 M1220.7,628.7L1219.6,652.3 M1224.1,629.5L1223.3,653.7 M1227.4,630.4L1226.8,655.4 M1230.8,631.1L1230.2,657.1 M1234.2,631.4L1233.7,658.9 M1237.6,631.7L1237.2,660.6 M1241.0,632.1L1240.7,662.3 M1244.4,632.4L1244.2,663.8 M1247.9,632.7L1247.8,665.4 M1251.3,633.0L1251.3,667.0 M1254.7,633.4L1254.9,668.5 M1258.1,633.7L1258.6,668.6 M1261.6,634.0L1262.5,668.0 M1265.0,634.4L1266.3,667.4 M1268.4,634.7L1270.2,666.8 M1271.8,635.0L1274.0,666.2 M1275.2,635.3L1277.8,665.6 M1278.7,635.7L1281.7,665.1 M1282.1,636.0L1285.4,663.9 M1285.5,635.6L1289.0,662.7 M1288.9,635.1L1292.7,661.4 M1292.3,634.7L1296.4,660.2 M1295.7,634.3L1300.1,659.0 M1299.1,633.9L1303.8,657.7 M1302.5,633.4L1307.4,656.5 M1306.0,633.0L1310.9,654.8 M1309.4,632.6L1314.2,652.7 M1312.8,632.2L1317.5,650.7 M1316.2,631.7L1320.7,648.6 M1319.6,631.3L1324.0,646.5 M1323.0,630.8L1327.3,644.4 M1326.3,629.9L1329.7,641.4 M1329.7,629.1L1331.8,638.2 M1333.0,628.3L1333.9,634.9 M1336.3,627.4L1336.0,631.6 M1112.0,572.6L1050.9,561.0 M1112.0,573.8L1050.7,565.0 M1112.0,574.9L1050.5,569.0 M1112.0,576.1L1050.3,573.0 M1112.0,577.2L1050.1,577.0 M1112.0,578.4L1050.1,581.0 M1112.0,579.6L1050.5,585.0 M1112.0,580.8L1050.8,589.0 M1112.0,581.9L1051.2,592.9 M1112.0,583.1L1051.5,596.9 M1112.0,584.2L1051.9,600.9 M1112.0,585.4L1053.0,604.7 M1112.0,586.6L1054.4,608.5 M1112.0,587.8L1055.8,612.2 M1112.0,588.9L1057.2,616.0 M1112.0,590.1L1059.0,619.5 M1112.0,591.2L1061.1,622.9 M1112.0,592.4L1063.2,626.3 M1112.0,593.6L1065.3,629.7 M1112.0,594.8L1067.5,633.1 M1112.0,595.9L1070.1,636.1 M1112.0,597.1L1072.9,638.9 M1112.0,598.2L1075.8,641.8 M1112.0,599.4L1078.6,644.6" stroke="#f8dcae" stroke-width="0.7" stroke-opacity="0.55" fill="none" transform="translate(1.7,0)"/>
<path d="M1116.0,567.0 C1117.5,560.5 1120.7,566.8 1125.0,566.0 C1129.3,565.2 1136.2,564.2 1142.0,562.0 C1147.8,559.8 1153.7,556.2 1160.0,553.0 C1166.3,549.8 1173.3,546.2 1180.0,543.0 C1186.7,539.8 1190.8,537.5 1200.0,534.0 C1209.2,530.5 1221.3,526.0 1235.0,522.0 C1248.7,518.0 1267.5,511.0 1282.0,510.0 C1296.5,509.0 1308.8,512.3 1322.0,516.0 C1335.2,519.7 1350.0,527.5 1361.0,532.0 C1372.0,536.5 1381.3,540.7 1388.0,543.0 C1394.7,545.3 1396.7,544.5 1401.0,546.0 C1405.3,547.5 1410.5,549.8 1414.0,552.0 C1417.5,554.2 1421.0,556.3 1422.0,559.0 C1423.0,561.7 1422.2,564.3 1420.0,568.0 C1417.8,571.7 1413.2,576.8 1409.0,581.0 C1404.8,585.2 1400.3,589.3 1395.0,593.0 C1389.7,596.7 1382.7,600.0 1377.0,603.0 C1371.3,606.0 1366.3,607.8 1361.0,611.0 C1355.7,614.2 1349.7,619.0 1345.0,622.0 C1340.3,625.0 1336.8,627.5 1333.0,629.0 C1329.2,630.5 1330.5,629.8 1322.0,631.0 C1313.5,632.2 1297.3,636.0 1282.0,636.0 C1266.7,636.0 1246.2,633.7 1230.0,631.0 C1213.8,628.3 1198.5,624.2 1185.0,620.0 C1171.5,615.8 1159.0,608.5 1149.0,606.0 C1139.0,603.5 1130.5,605.2 1125.0,605.0 C1119.5,604.8 1117.5,611.3 1116.0,605.0 C1114.5,598.7 1114.5,573.5 1116.0,567.0 Z" fill="url(#bodyG)"/>
<clipPath id="bodyClip"><path d="M1116.0,567.0 C1117.5,560.5 1120.7,566.8 1125.0,566.0 C1129.3,565.2 1136.2,564.2 1142.0,562.0 C1147.8,559.8 1153.7,556.2 1160.0,553.0 C1166.3,549.8 1173.3,546.2 1180.0,543.0 C1186.7,539.8 1190.8,537.5 1200.0,534.0 C1209.2,530.5 1221.3,526.0 1235.0,522.0 C1248.7,518.0 1267.5,511.0 1282.0,510.0 C1296.5,509.0 1308.8,512.3 1322.0,516.0 C1335.2,519.7 1350.0,527.5 1361.0,532.0 C1372.0,536.5 1381.3,540.7 1388.0,543.0 C1394.7,545.3 1396.7,544.5 1401.0,546.0 C1405.3,547.5 1410.5,549.8 1414.0,552.0 C1417.5,554.2 1421.0,556.3 1422.0,559.0 C1423.0,561.7 1422.2,564.3 1420.0,568.0 C1417.8,571.7 1413.2,576.8 1409.0,581.0 C1404.8,585.2 1400.3,589.3 1395.0,593.0 C1389.7,596.7 1382.7,600.0 1377.0,603.0 C1371.3,606.0 1366.3,607.8 1361.0,611.0 C1355.7,614.2 1349.7,619.0 1345.0,622.0 C1340.3,625.0 1336.8,627.5 1333.0,629.0 C1329.2,630.5 1330.5,629.8 1322.0,631.0 C1313.5,632.2 1297.3,636.0 1282.0,636.0 C1266.7,636.0 1246.2,633.7 1230.0,631.0 C1213.8,628.3 1198.5,624.2 1185.0,620.0 C1171.5,615.8 1159.0,608.5 1149.0,606.0 C1139.0,603.5 1130.5,605.2 1125.0,605.0 C1119.5,604.8 1117.5,611.3 1116.0,605.0 C1114.5,598.7 1114.5,573.5 1116.0,567.0 Z"/></clipPath>
<g clip-path="url(#bodyClip)">
<ellipse cx="1275" cy="548" rx="62" ry="30" fill="url(#hl)"/>
<ellipse cx="1205" cy="565" rx="30" ry="14" fill="url(#hl)" opacity="0.5"/>
<ellipse cx="1300" cy="612" rx="85" ry="24" fill="url(#dk)"/>
<ellipse cx="1390" cy="582" rx="30" ry="24" fill="url(#dk)" opacity="0.8"/>
<ellipse cx="1140" cy="590" rx="30" ry="18" fill="url(#dk)" opacity="0.6"/>
<rect x="1095" y="505" width="335" height="135" filter="url(#grain)" opacity="0.9"/>
<rect x="1095" y="505" width="335" height="135" filter="url(#grainL)" opacity="0.55"/>
</g>
<path d="M1378,567 C1386,576 1398,580 1410,577" stroke="#3a2816" stroke-width="1.4" fill="none" stroke-opacity="0.65"/>
<path d="M1362,588 C1368,597 1378,601 1391,599" stroke="#d8c4ae" stroke-width="1.8" fill="none" stroke-opacity="0.55"/>
<path d="M1353,560 C1357,572 1359,585 1357,597" stroke="#5a4028" stroke-width="1.5" fill="none" stroke-opacity="0.45"/>
<path d="M1412,552 C1420,555 1424,560 1420,567" stroke="#b06a48" stroke-width="2" fill="none" stroke-opacity="0.7"/>
</g>
<line x1="275.8" y1="2293.7" x2="275.8" y2="2305.7" stroke="#333333" stroke-width="2.6"/>
<text style="font-size:47.3px" transform="translate(270.68,2346.00) scale(0.5751,1)">1</text>
<line x1="496.08" y1="2293.7" x2="496.08" y2="2305.7" stroke="#333333" stroke-width="2.6"/>
<text style="font-size:47.3px" transform="translate(485.00,2346.00) scale(1.0173,1)">2</text>
<line x1="716.36" y1="2293.7" x2="716.36" y2="2305.7" stroke="#333333" stroke-width="2.6"/>
<text style="font-size:47.3px" transform="translate(705.06,2346.00) scale(0.9221,1)">3</text>
<line x1="936.64" y1="2293.7" x2="936.64" y2="2305.7" stroke="#333333" stroke-width="2.6"/>
<text style="font-size:47.3px" transform="translate(924.93,2346.00) scale(0.9111,1)">4</text>
<line x1="1156.92" y1="2293.7" x2="1156.92" y2="2305.7" stroke="#333333" stroke-width="2.6"/>
<text style="font-size:47.3px" transform="translate(1144.82,2346.00) scale(0.8920,1)">5</text>
<line x1="1377.2" y1="2293.7" x2="1377.2" y2="2305.7" stroke="#333333" stroke-width="2.6"/>
<text style="font-size:47.3px" transform="translate(1363.72,2346.00) scale(0.9331,1)">6</text>
<path d="M284.8,2357 L397.4,2376.4 L503.3,2354.8 M397.4,2376.4 L397.4,2388" fill="none" stroke="#000" stroke-width="3.2"/>
<path d="M720.3,2356.4 L720.3,2387.9" fill="none" stroke="#000" stroke-width="3.2"/>
<path d="M941.7,2356.6 L1162.2,2376.1 L1379.7,2355.6 M1162.2,2376.1 L1162.2,2387.4" fill="none" stroke="#000" stroke-width="3.2"/>
<text style="font-size:39.6px" transform="translate(272.60,2420.60) scale(0.9700,1)">Strong capacity</text>
<text style="font-size:39.6px" transform="translate(648.40,2421.00) scale(0.9614,1)">Weak cap.</text>
<text style="font-size:39.6px" transform="translate(1111.80,2420.60) scale(0.9754,1)">No cap.</text>
<text style="font-size:58.8px" transform="translate(534.59,2487.6) scale(0.9832,1)">Quantity combination, <tspan font-style="italic">m</tspan></text>
<text style="font-size:59.3px" transform="translate(40.70,1462.84) rotate(-90) scale(1.0172,1)">Proportion of frequency %</text>
</svg>
</body></html>
